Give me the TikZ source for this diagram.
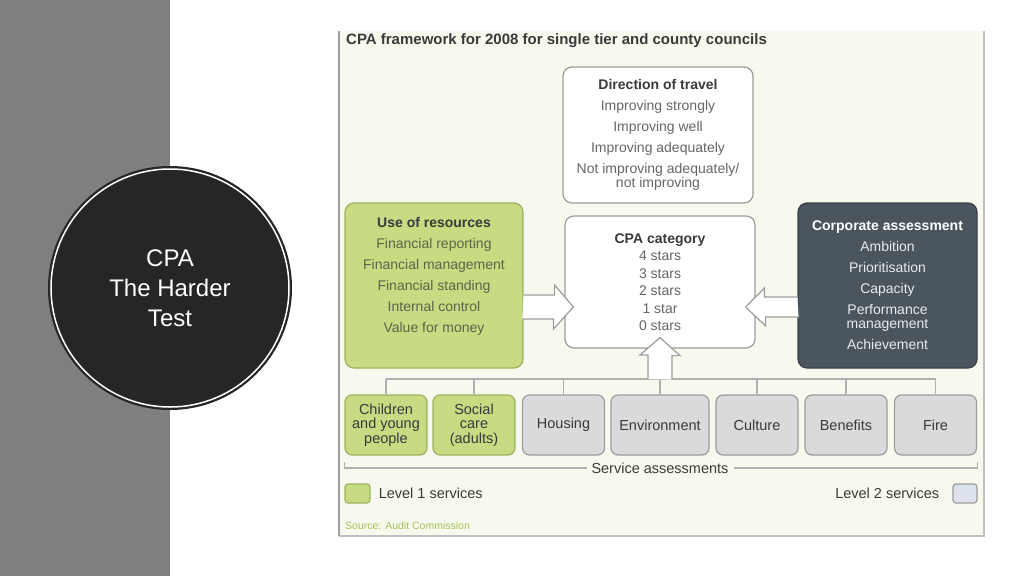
\documentclass[tikz,border=0pt]{standalone}
\usepackage{fontspec}
\setmainfont{Liberation Sans}
\usetikzlibrary{positioning, calc}
\definecolor{SideGrey}{HTML}{7F7F7F}
\definecolor{Disc}{HTML}{262626}
\definecolor{Cream}{HTML}{F8F9EE}
\definecolor{LGreen}{HTML}{C6DB82}
\definecolor{DGreen}{HTML}{9DB45F}
\definecolor{Slate}{HTML}{4B555D}
\definecolor{SlateEdge}{HTML}{394148}
\definecolor{LGrey}{HTML}{D9DADB}
\definecolor{MGrey}{HTML}{9C9C9C}
\definecolor{LBlue}{HTML}{DDE3EE}
\definecolor{TxtDark}{HTML}{3A3A3A}
\definecolor{TxtItem}{HTML}{666666}
\definecolor{TxtOlive}{HTML}{5B6548}
\definecolor{SrcGreen}{HTML}{A3C25A}

\begin{document}
\begin{tikzpicture}[x=1pt, y=-1pt,
    bigbox/.style={draw=MGrey, line width=1.2pt, rounded corners=9pt, align=center, inner sep=0pt, font=\fontsize{14}{21}\selectfont},
    servbox/.style={draw=MGrey, fill=LGrey, line width=1.2pt, rounded corners=7pt, align=center, inner sep=0pt, minimum width=82pt, minimum height=60pt, text=TxtDark, font=\fontsize{14.5}{14.5}\selectfont},
    lvlone/.style={servbox, fill=LGreen, draw=DGreen},
    hollow/.style={draw=MGrey, fill=white, line width=1.2pt},
    treeline/.style={draw=MGrey!80, line width=1.2pt},
    keytext/.style={inner sep=0pt, text=TxtDark, font=\fontsize{14.5}{16}\selectfont}]
    \useasboundingbox (0,0) rectangle (1024,576);

    % --- SLIDE ---
    \fill[white] (0,0) rectangle (1024,576);
    \fill[SideGrey] (0,0) rectangle (170,576);
    \node[circle, fill=Disc, minimum size=244pt, inner sep=0pt, text=white, align=center, font=\fontsize{24}{30}\selectfont] (badge) at (170,288) {CPA\\The Harder\\Test};
    \draw[white, line width=1.5pt] (badge.center) circle (119);
    \node[text=white!75!gray, font=\fontsize{5}{5}\selectfont, inner sep=0pt] (slideno) at (51,288) {2};

    % --- PANEL ---
    \fill[Cream] (339,31) rectangle (984,536);
    \draw[black!25, line width=1.5pt] (339,536) -- (984,536) -- (984,31);
    \draw[black!38, line width=2.5pt] (339,31) -- (339,536);
    \node[anchor=west, inner sep=0pt, text=TxtDark, font=\bfseries\fontsize{15}{16}\selectfont] (title) at (346,41) {CPA framework for 2008 for single tier and county councils};

    % Top row boxes
    \node[bigbox, fill=white, text=TxtItem, minimum width=190pt, minimum height=136pt] (travel) at (658,135)
        {{\bfseries\color{TxtDark}Direction of travel}\\Improving strongly\\Improving well\\Improving adequately\\Not improving adequately/\\[-7pt]not improving};
    \node[bigbox, fill=LGreen, draw=DGreen, text=TxtOlive, minimum width=178pt, minimum height=165pt] (use) at (434,285.5)
        {{\bfseries\color{TxtDark}Use of resources}\\Financial reporting\\Financial management\\Financial standing\\Internal control\\Value for money\\~};
    \node[bigbox, fill=white, text=TxtItem, minimum width=190pt, minimum height=132pt, font=\fontsize{14}{17.5}\selectfont] (cpa) at (660,282)
        {{\bfseries\color{TxtDark}CPA category}\\4 stars\\3 stars\\2 stars\\1 star\\0 stars};
    \node[bigbox, fill=Slate, draw=SlateEdge, text=white!88!Slate, minimum width=179pt, minimum height=165pt] (corp) at (887.5,285.5)
        {{\bfseries\color{white}Corporate assessment}\\Ambition\\Prioritisation\\Capacity\\Performance\\[-7pt]management\\Achievement};

    % Service assessments
    \node[lvlone] (kids) at (386,425) {Children\\and young\\people};
    \node[lvlone] (social) at (474,425) {Social\\care\\(adults)};
    \node[servbox] (housing) at (563.5,425) {Housing};
    \node[servbox, minimum width=98pt] (environ) at (660,425) {Environment};
    \node[servbox] (culture) at (757,425) {Culture};
    \node[servbox] (benefits) at (846,425) {Benefits};
    \node[servbox] (fire) at (935.5,425) {Fire};

    \coordinate (bus) at (0,379);
    \draw[treeline] (kids.north |- bus) -- (fire.north |- bus);
    \foreach \b in {kids,social,housing,environ,culture,benefits,fire}
        \draw[treeline] (\b.north) -- (\b.north |- bus);

    % Block arrows into CPA category
    \coordinate (tipL) at ($(cpa.west)+(9,25)$);
    \coordinate (tipR) at ($(cpa.east)+(-10,25)$);
    \coordinate (tipU) at ($(cpa.south)+(0,-11)$);
    \draw[hollow] (use.east |- tipL) ++(0,-12) -- ++(31,0) -- ++(0,-10) -- (tipL) -- ++(-20,22) -- ++(0,-10) -- ++(-31,0);
    \draw[hollow] (corp.west |- tipR) ++(0,-10) -- ++(-33,0) -- ++(0,-9) -- (tipR) -- ++(20,19) -- ++(0,-9) -- ++(33,0);
    \draw[hollow] (tipU |- bus) ++(-12,0) -- ++(0,-24) -- ++(-8,0) -- (tipU) -- ++(20,18) -- ++(-8,0) -- ++(0,24);

    % Bracket
    \coordinate (brk) at (0,468);
    \draw[treeline] (kids.south west |- brk) ++(0,-6) -- (kids.south west |- brk) -- (fire.south east |- brk) -- ++(0,-6);
    \node[fill=Cream, inner xsep=5pt, inner ysep=1pt, text=TxtDark, font=\fontsize{14.5}{16}\selectfont] (svc) at (environ.south |- brk) {Service assessments};

    % Legend
    \node[draw=DGreen, fill=LGreen, line width=1.2pt, rounded corners=3pt, minimum width=25pt, minimum height=19pt, inner sep=0pt] (key1) at (357.5,493.5) {};
    \node[keytext, right=8pt of key1] (lvl1) {Level 1 services};
    \node[draw=MGrey, fill=LBlue, line width=1.2pt, rounded corners=3pt, minimum width=24pt, minimum height=19pt, inner sep=0pt] (key2) at (965,493.5) {};
    \node[keytext, left=13pt of key2] (lvl2) {Level 2 services};

    \node[anchor=west, inner sep=0pt, text=SrcGreen, font=\fontsize{10.5}{12}\selectfont] (src) at (345,526) {Source: Audit Commission};
\end{tikzpicture}
\end{document}
